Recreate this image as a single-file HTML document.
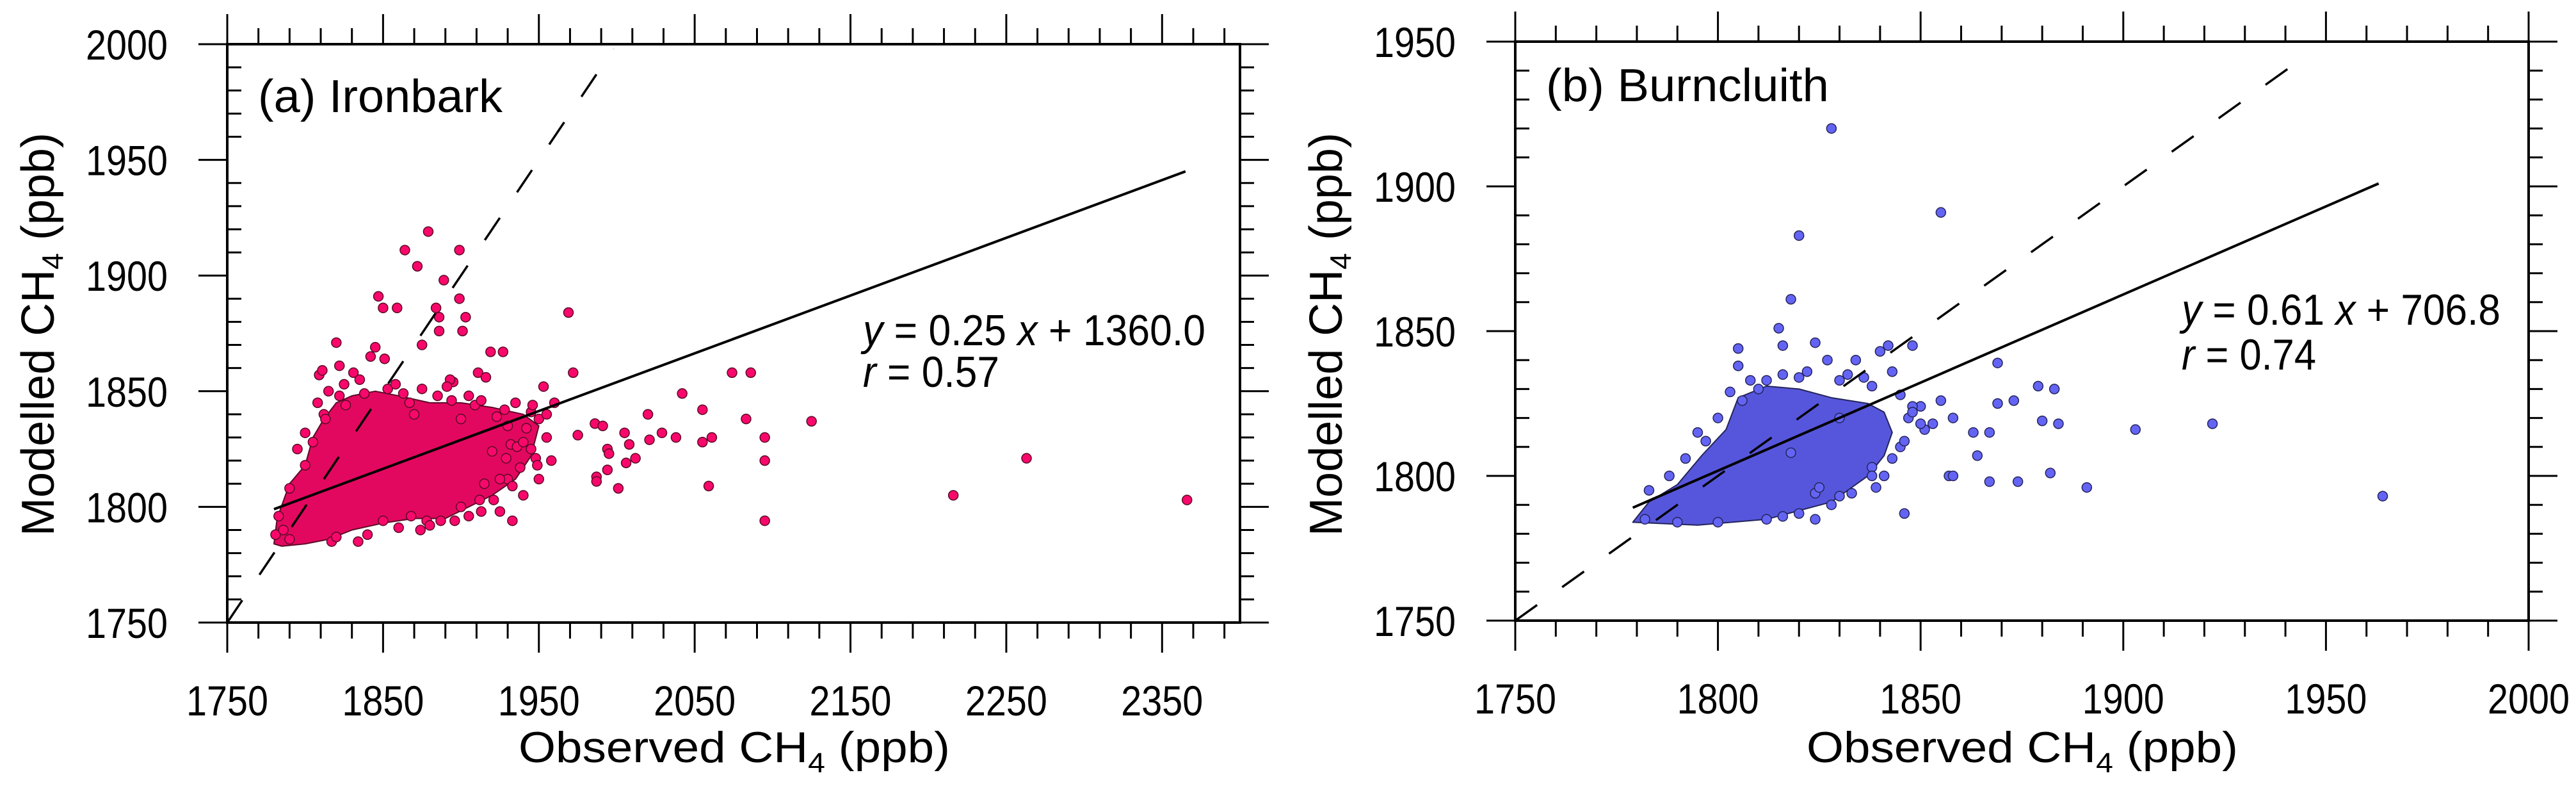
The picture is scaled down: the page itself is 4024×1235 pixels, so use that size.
<!DOCTYPE html>
<html><head><meta charset="utf-8"><style>
html,body{margin:0;padding:0;background:#fff}
svg{display:block}
text{font-family:"Liberation Sans",sans-serif;fill:#000}
</style></head><body>
<svg id="fig" width="4024" height="1235" xmlns="http://www.w3.org/2000/svg"></svg>
<script>
// ---------- DATA ----------
const panelATitle = "(a) Ironbark";
const panelBTitle = "(b) Burncluith";
const aXTicks = [1750,1850,1950,2050,2150,2250,2350];
const aYTicks = [1750,1800,1850,1900,1950,2000];
const bXTicks = [1750,1800,1850,1900,1950,2000];
const bYTicks = [1750,1800,1850,1900,1950];
const aFitX = [1780,2365];
const aFitY = [1799,1945];
const bFitX = [1779,1963];
const bFitY = [1789,1901];
const aOneToOne = [1750,1998];
const bOneToOne = [1750,1945];
const aCoreHull = [[1780,1784],[1782,1795],[1790,1810],[1800,1818],[1805,1830],[1812,1838],[1820,1845],[1830,1848],[1845,1850],[1860,1848],[1880,1845],[1900,1845],[1920,1843],[1940,1840],[1950,1835],[1945,1822],[1935,1812],[1920,1805],[1905,1800],[1890,1795],[1870,1795],[1850,1793],[1830,1790],[1815,1786],[1800,1784],[1785,1783]];
const aPoints = [[1879,1919],[1864,1911],[1899,1911],[1872,1904],[1889,1898],[1847,1891],[1899,1890],[1850,1886],[1859,1886],[1884,1886],[1886,1882],[1903,1882],[1969,1884],[1886,1876],[1901,1876],[1820,1871],[1845,1869],[1875,1870],[1919,1867],[1927,1867],[1851,1864],[1842,1865],[1809,1857],[1811,1859],[1822,1861],[1831,1858],[1972,1858],[2074,1858],[2086,1858],[1953,1852],[2042,1849],[2055,1842],[2020,1840],[2083,1838],[2125,1837],[1986,1836],[1991,1835],[1975,1831],[2005,1832],[2029,1832],[2038,1830],[2061,1830],[2095,1830],[2021,1829],[2055,1828],[2008,1827],[1994,1825],[1995,1823],[2012,1821],[2006,1819],[2095,1820],[2263,1821],[1948,1821],[1949,1818],[1987,1813],[1987,1811],[1994,1816],[2001,1808],[2059,1809],[2216,1805],[2366,1803],[2095,1794],[1933,1794],[1930,1812],[1933,1809],[1912,1803],[1921,1803],[1913,1798],[1932,1827],[1936,1826],[1920,1824],[1929,1821],[1896,1794],[1887,1794],[1878,1794],[1874,1790],[1834,1785],[1817,1785],[1945,1841],[1928,1842],[1923,1839],[1909,1844],[1894,1846],[1913,1846],[1911,1858],[1916,1856],[1895,1854],[1893,1855],[1891,1852],[1863,1849],[1853,1851],[1867,1845],[1950,1838],[1955,1840],[1942,1834],[1940,1828],[1915,1810],[1900,1800],[1868,1796],[1850,1794],[1805,1828],[1812,1840],[1800,1818],[1790,1808],[1783,1796],[1781,1788],[1826,1844],[1838,1849],[1960,1845],[1946,1844],
[1795,1825],[1800,1832],[1808,1845],[1815,1850],[1825,1853],[1835,1855],[1858,1853],[1875,1851],[1885,1848],[1905,1848],[1935,1845],[1955,1830],[1958,1820],[1950,1812],[1940,1805],[1925,1798],[1905,1796],[1880,1792],[1860,1791],[1840,1788],[1820,1787],[1790,1786],[1786,1790],[1813,1838],[1822,1848],[1870,1840],[1900,1838],[1930,1835],[1945,1825],[1938,1817],[1925,1812]];
const bCoreHull = [[1779,1784],[1783,1791],[1790,1797],[1796,1807],[1802,1816],[1805,1827],[1812,1831],[1820,1830],[1828,1827],[1837,1825],[1841,1822],[1843,1815],[1841,1807],[1837,1800],[1828,1791],[1812,1785],[1795,1783]];
const bPoints = [[1828,1920],[1855,1891],[1820,1883],[1818,1861],[1815,1851],[1805,1844],[1816,1845],[1824,1846],[1840,1843],[1842,1845],[1848,1845],[1869,1839],[1827,1840],[1834,1840],[1805,1838],[1879,1831],[1883,1830],[1869,1825],[1873,1826],[1880,1819],[1884,1818],[1903,1816],[1922,1818],[1867,1815],[1863,1815],[1864,1807],[1857,1800],[1858,1800],[1867,1798],[1874,1798],[1882,1801],[1891,1796],[1964,1793],[1846,1787],[1824,1785],[1839,1796],[1841,1800],[1851,1816],[1850,1824],[1855,1826],[1858,1820],[1795,1815],[1816,1786],[1830,1793],[1824,1794],[1825,1796],[1848,1824],[1847,1820],[1843,1836],[1836,1834],[1810,1830],[1812,1833],[1820,1834],[1830,1833],[1806,1826],[1853,1818],[1845,1810],[1838,1803],
[1783,1795],[1788,1800],[1792,1806],[1797,1812],[1800,1820],[1803,1829],[1808,1833],[1816,1835],[1822,1836],[1832,1835],[1838,1831],[1845,1828],[1848,1822],[1850,1818],[1846,1812],[1843,1806],[1838,1800],[1833,1794],[1828,1790],[1820,1787],[1812,1785],[1800,1784],[1790,1784],[1782,1785],[1818,1808],[1830,1820]];

// ---------- DRAWING ----------
const NS = "http://www.w3.org/2000/svg";
const svg = document.getElementById('fig');
function mk(tag, attrs, parent){ const e=document.createElementNS(NS,tag); for(const k in attrs) e.setAttribute(k,attrs[k]); (parent||svg).appendChild(e); return e; }

function drawPanel(cfg){
  const g = mk('g',{});
  
  
  const sx = v => cfg.L + (v-cfg.x0)/(cfg.x1-cfg.x0)*(cfg.R-cfg.L);
  const sy = v => cfg.B - (v-cfg.y0)/(cfg.y1-cfg.y0)*(cfg.B-cfg.T);
  const cid = 'clip-'+cfg.name;
  const cp = mk('clipPath',{id:cid},g);
  mk('rect',{x:cfg.L,y:cfg.T,width:cfg.R-cfg.L,height:cfg.B-cfg.T},cp);
  const plot = mk('g',{'clip-path':'url(#'+cid+')'},g);
  
  
  const hull = mk('polygon',{points:cfg.hull.map(p=>sx(p[0])+','+sy(p[1])).join(' '),fill:cfg.core,stroke:cfg.edge,'stroke-width':2,'stroke-linejoin':'round'},plot);
  
  
  cfg.pts.forEach(p=>{
    const c = mk('circle',{cx:sx(p[0]),cy:sy(p[1]),r:7.5,fill:cfg.color,stroke:cfg.edge,'stroke-width':1.5},plot);
    
    
  });
  const d = mk('line',{x1:sx(cfg.one[0]),y1:sy(cfg.one[0]),x2:sx(cfg.one[1]),y2:sy(cfg.one[1]),stroke:'#000','stroke-width':3.5,'stroke-dasharray':'42 48'},plot);
  
  
  const f = mk('line',{x1:sx(cfg.fx[0]),y1:sy(cfg.fy[0]),x2:sx(cfg.fx[1]),y2:sy(cfg.fy[1]),stroke:'#000','stroke-width':4},plot);
  
  
  const fr = mk('rect',{x:cfg.L,y:cfg.T,width:cfg.R-cfg.L,height:cfg.B-cfg.T,fill:'none',stroke:'#000','stroke-width':4},g);
  
  
  const tg = mk('g',{stroke:'#000','stroke-width':3},g);
  
  
  for(let v=cfg.x0; v<=cfg.x1+1e-6; v+=cfg.xMinor){
    const major = Math.abs(((v-cfg.x0)%cfg.xMajor))<1e-6;
    const len = major?47:25, x=sx(v);
    mk('line',{x1:x,y1:cfg.B,x2:x,y2:cfg.B+len},tg);
    mk('line',{x1:x,y1:cfg.T,x2:x,y2:cfg.T-len},tg);
  }
  for(let v=cfg.y0; v<=cfg.y1+1e-6; v+=cfg.yMinor){
    const major = Math.abs(((v-cfg.y0)%cfg.yMajor))<1e-6;
    const y=sy(v);
    if(major){ mk('line',{x1:cfg.L-45,y1:y,x2:cfg.L,y2:y},tg); mk('line',{x1:cfg.R,y1:y,x2:cfg.R+45,y2:y},tg); }
    else { mk('line',{x1:cfg.L,y1:y,x2:cfg.L+22,y2:y},tg); mk('line',{x1:cfg.R,y1:y,x2:cfg.R+22,y2:y},tg); }
  }
  cfg.xt.forEach(v=>{
    const t = mk('text',{x:sx(v),y:cfg.B+145,'font-size':66,'text-anchor':'middle',textLength:128,lengthAdjust:'spacingAndGlyphs'},g);
    t.textContent=v;
    
    
  });
  cfg.yt.forEach(v=>{
    const t = mk('text',{x:cfg.L-93,y:sy(v)+24,'font-size':66,'text-anchor':'end',textLength:128,lengthAdjust:'spacingAndGlyphs'},g);
    t.textContent=v;
    
    
  });
  const xt = mk('text',{x:cfg.xtc,y:1190,'font-size':68,'text-anchor':'middle',textLength:674,lengthAdjust:'spacingAndGlyphs'},g);
  xt.innerHTML='Observed CH<tspan font-size="44" dy="16">4</tspan><tspan dy="-16"> (ppb)</tspan>';
  
  
  const yt = mk('text',{x:0,y:0,'font-size':72,'text-anchor':'middle',transform:'translate('+(cfg.ytx)+',522) rotate(-90)'},g);
  yt.innerHTML='Modelled CH<tspan font-size="46" dy="14">4</tspan><tspan dy="-14"> (ppb)</tspan>';
  
  
  const pl = mk('text',{x:cfg.lab[0],y:cfg.lab[1],'font-size':72,textLength:cfg.lab[2],lengthAdjust:'spacingAndGlyphs'},g);
  pl.textContent = cfg.title;
  
  
  const eq = mk('text',{x:cfg.eq[0],y:cfg.eq[1],'font-size':68,textLength:cfg.eq[2],lengthAdjust:'spacingAndGlyphs'},g);
  eq.innerHTML='<tspan font-style="italic">y</tspan> = '+cfg.eqs+'';
  
  
  const rr = mk('text',{x:cfg.eq[0],y:cfg.eq[3],'font-size':68,textLength:cfg.eq[4],lengthAdjust:'spacingAndGlyphs'},g);
  rr.innerHTML='<tspan font-style="italic">r</tspan> = '+cfg.r;
  
  
}

drawPanel({name:'panel-a-ironbark',L:355,R:1937,T:69,B:972,x0:1750,x1:2400,y0:1750,y1:2000,xMajor:100,xMinor:20,yMajor:50,yMinor:10,
  xt:aXTicks,yt:aYTicks,fx:aFitX,fy:aFitY,one:aOneToOne,hull:aCoreHull,pts:aPoints,color:'#f8086a',core:'#e3085f',edge:'#5a0a26',
  xtc:1147,ytx:84,title:panelATitle,lab:[403,175,382],eq:[1348,539,535,604,213],eqs:'0.25 <tspan font-style="italic">x</tspan> + 1360.0',r:'0.57'});
drawPanel({name:'panel-b-burncluith',L:2367,R:3950,T:65,B:969,x0:1750,x1:2000,y0:1750,y1:1950,xMajor:50,xMinor:10,yMajor:50,yMinor:10,
  xt:bXTicks,yt:bYTicks,fx:bFitX,fy:bFitY,one:bOneToOne,hull:bCoreHull,pts:bPoints,color:'#6464f4',core:'#5656dc',edge:'#24245a',
  xtc:3159,ytx:2096,title:panelBTitle,lab:[2415,158,442],eq:[3408,507,498,577,210],eqs:'0.61 <tspan font-style="italic">x</tspan> + 706.8',r:'0.74'});
</script>
</body></html>
